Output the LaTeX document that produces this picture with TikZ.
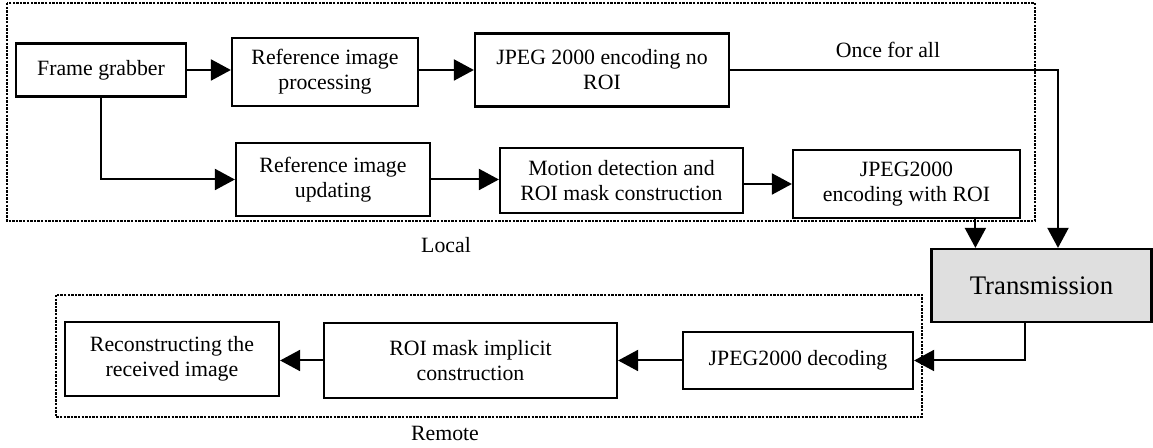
\documentclass[tikz,border=0pt]{standalone}
\usepackage{fontspec}
\setmainfont{Liberation Serif}
\usetikzlibrary{arrows.meta,calc}
\tikzset{
	block/.style={draw,line width=1.1pt,align=center,inner sep=2pt,font=\fontsize{10.9}{12.5}\selectfont},
	group/.style={line width=1pt,dash pattern=on 1.2pt off 0.6pt},
	link/.style={line width=1pt,-{Triangle[length=10pt,width=10.5pt]}},
	tag/.style={font=\fontsize{10.9}{12.5}\selectfont}
}

\begin{document}
\begin{tikzpicture}[x=0.5pt,y=0.5pt]
	\useasboundingbox (0,0) rectangle (1153,448);
	
	% Local and remote groups
	\draw[group] (7,445) rectangle (1035,227);
	\draw[group] (56,153) rectangle (922,31);
	\node[tag] (local) at (446,203) {Local};
	\node[tag] (remote) at (445,15) {Remote};
	
	% Local blocks
	\node[block,minimum width=85pt,minimum height=26.5pt] (grab) at (101,378) {Frame grabber};
	\node[block,minimum width=93pt,minimum height=34pt] (refproc) at (325,376) {Reference image\\processing};
	\node[block,minimum width=127pt,minimum height=36.5pt] (encfull) at (602,378) {JPEG 2000 encoding no\\ROI};
	\node[block,minimum width=97pt,minimum height=36.5pt] (refupd) at (333,268.5) {Reference image\\updating};
	\node[block,minimum width=121.5pt,minimum height=32.5pt] (motion) at (621.5,267.5) {Motion detection and\\ROI mask construction};
	\node[block,minimum width=113.5pt,minimum height=34pt] (encroi) at (906.5,264) {JPEG2000\\encoding with ROI};
	\node[tag] (oncelabel) at (888,398) {Once for all};
	
	% Transmission
	\node[block,fill=gray!25,minimum width=110pt,minimum height=36.5pt,font=\fontsize{13.4}{16}\selectfont] (trans) at (1041.5,162.5) {Transmission};
	
	% Remote blocks
	\node[block,minimum width=107pt,minimum height=37pt] (recon) at (172,89) {Reconstructing the\\received image};
	\node[block,minimum width=146.5pt,minimum height=37.5pt] (roimask) at (470.5,87.5) {ROI mask implicit\\construction};
	\node[block,minimum width=115pt,minimum height=28.5pt] (decode) at (798,87.5) {JPEG2000 decoding};
	
	% Turning points
	\coordinate (once) at (1058,378);
	\coordinate (tin) at ($(trans.north west)+(45,0)$);
	\coordinate (tout) at ($(trans.south)+(-17,0)$);
	
	% Local links
	\draw[link] (grab.east) -- (grab.east -| refproc.west);
	\draw[link] (refproc.east |- encfull.west) -- (encfull.west);
	\draw[link] (encfull.east) -- (once) -- (once |- trans.north);
	\draw[link] (grab.south) |- (refupd.west);
	\draw[link] (refupd.east) -- (refupd.east -| motion.west);
	\draw[link] (motion.east |- encroi.west) -- (encroi.west);
	\draw[link] (encroi.south -| tin) -- (tin);
	
	% Remote links
	\draw[link] (tout) |- (decode.east);
	\draw[link] (decode.west) -- (decode.west -| roimask.east);
	\draw[link] (roimask.west) -- (roimask.west -| recon.east);
	
\end{tikzpicture}
\end{document}
